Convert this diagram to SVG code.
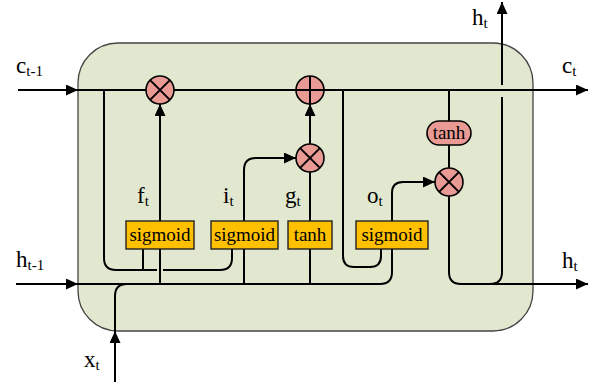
<svg xmlns="http://www.w3.org/2000/svg" width="599" height="389" viewBox="0 0 599 389">
<style>
.ln{fill:none;stroke:#000;stroke-width:2}
.op{fill:#EA9A94;stroke:#000;stroke-width:1.6}
.gate{fill:#FFC000;stroke:#222;stroke-width:1.4}
text{font-family:'Liberation Serif','Times New Roman',serif;fill:#000}
.lbl{font-size:23px}
.sub{font-size:15px}
.bx{font-size:19px;text-anchor:middle}
</style>
<defs>
<marker id="ar" markerUnits="userSpaceOnUse" markerWidth="12" markerHeight="11" refX="12" refY="5.5" orient="auto">
<path d="M0,0 L12,5.5 L0,11 z" fill="#000"/>
</marker>
</defs>
<rect id="cell" x="78" y="43" width="455" height="288" rx="40" ry="40" fill="#E2E8CF" stroke="#444" stroke-width="1.3"/>
<g id="connectors">
<path class="ln" d="M18,90 H78" marker-end="url(#ar)"/>
<path class="ln" d="M78,90 H588" marker-end="url(#ar)"/>
<path class="ln" d="M16,284 H78" marker-end="url(#ar)"/>
<path class="ln" d="M78,284 H380 Q392,284 392,272 V249"/>
<path class="ln" d="M115,382 V331" marker-end="url(#ar)"/>
<path class="ln" d="M115,331 V296 Q115,284 127,284"/>
<path class="ln" d="M104,90 V258 Q104,270 116,270 H157"/>
<path class="ln" d="M163,270 H220 Q232,270 232,258 V249"/>
<path class="ln" d="M143,249 V270"/>
<path class="ln" d="M160,221 V104" marker-end="url(#ar)"/>
<path class="ln" d="M160,249 V284"/>
<path class="ln" d="M244,221 V170 Q244,158 256,158 H296" marker-end="url(#ar)"/>
<path class="ln" d="M244,249 V284"/>
<path class="ln" d="M310,221 V172"/>
<path class="ln" d="M310,249 V284"/>
<path class="ln" d="M310,144 V104" marker-end="url(#ar)"/>
<path class="ln" d="M343,90 V256 Q343,267 354,267 H370 Q381,267 381,256 V249"/>
<path class="ln" d="M392,221 V193 Q392,182 403,182 H435" marker-end="url(#ar)"/>
<path class="ln" d="M449,90 V121"/>
<path class="ln" d="M449,145 V168"/>
<path class="ln" d="M449,196 V272 Q449,284 461,284 H588" marker-end="url(#ar)"/>
<path class="ln" d="M490,284 Q502,284 502,272 V97"/>
<path class="ln" d="M502,85 V2" marker-end="url(#ar)"/>
</g>
<g id="mul_f">
<circle class="op" cx="160" cy="90" r="14"/>
<path class="ln" stroke-width="1.6" d="M150.1,80.1 L169.9,99.9 M169.9,80.1 L150.1,99.9"/>
</g>
<g id="add_c">
<circle class="op" cx="310" cy="90" r="14"/>
<path class="ln" stroke-width="1.6" d="M296,90 H324 M310,76 V104"/>
</g>
<g id="mul_i">
<circle class="op" cx="310" cy="158" r="14"/>
<path class="ln" stroke-width="1.6" d="M300.1,148.1 L319.9,167.9 M319.9,148.1 L300.1,167.9"/>
</g>
<g id="mul_o">
<circle class="op" cx="449" cy="182" r="14"/>
<path class="ln" stroke-width="1.6" d="M439.1,172.1 L458.9,191.9 M458.9,172.1 L439.1,191.9"/>
</g>
<g id="tanh_c">
<rect class="op" x="427" y="121" width="44" height="24" rx="12" ry="12"/>
<text class="bx" x="449" y="139" font-size="18">tanh</text>
</g>
<g id="gate_f">
<rect class="gate" x="126" y="221" width="68" height="28"/>
<text class="bx" x="160" y="241">sigmoid</text>
</g>
<g id="gate_i">
<rect class="gate" x="211" y="221" width="67" height="28"/>
<text class="bx" x="244.5" y="241">sigmoid</text>
</g>
<g id="gate_g">
<rect class="gate" x="288" y="221" width="44" height="28"/>
<text class="bx" x="310" y="241">tanh</text>
</g>
<g id="gate_o">
<rect class="gate" x="356" y="221" width="72" height="28"/>
<text class="bx" x="392" y="241">sigmoid</text>
</g>
<g id="labels">
<text class="lbl" x="16" y="73">c<tspan class="sub" dy="3">t-1</tspan></text>
<text class="lbl" x="16" y="267">h<tspan class="sub" dy="3">t-1</tspan></text>
<text class="lbl" x="84" y="367">x<tspan class="sub" dy="3">t</tspan></text>
<text class="lbl" x="562" y="73">c<tspan class="sub" dy="3">t</tspan></text>
<text class="lbl" x="472" y="25">h<tspan class="sub" dy="3">t</tspan></text>
<text class="lbl" x="562" y="268">h<tspan class="sub" dy="3">t</tspan></text>
<text class="lbl" x="137" y="203">f<tspan class="sub" dy="3">t</tspan></text>
<text class="lbl" x="223" y="203">i<tspan class="sub" dy="3">t</tspan></text>
<text class="lbl" x="285" y="203">g<tspan class="sub" dy="3">t</tspan></text>
<text class="lbl" x="367" y="203">o<tspan class="sub" dy="3">t</tspan></text>
</g>
</svg>
